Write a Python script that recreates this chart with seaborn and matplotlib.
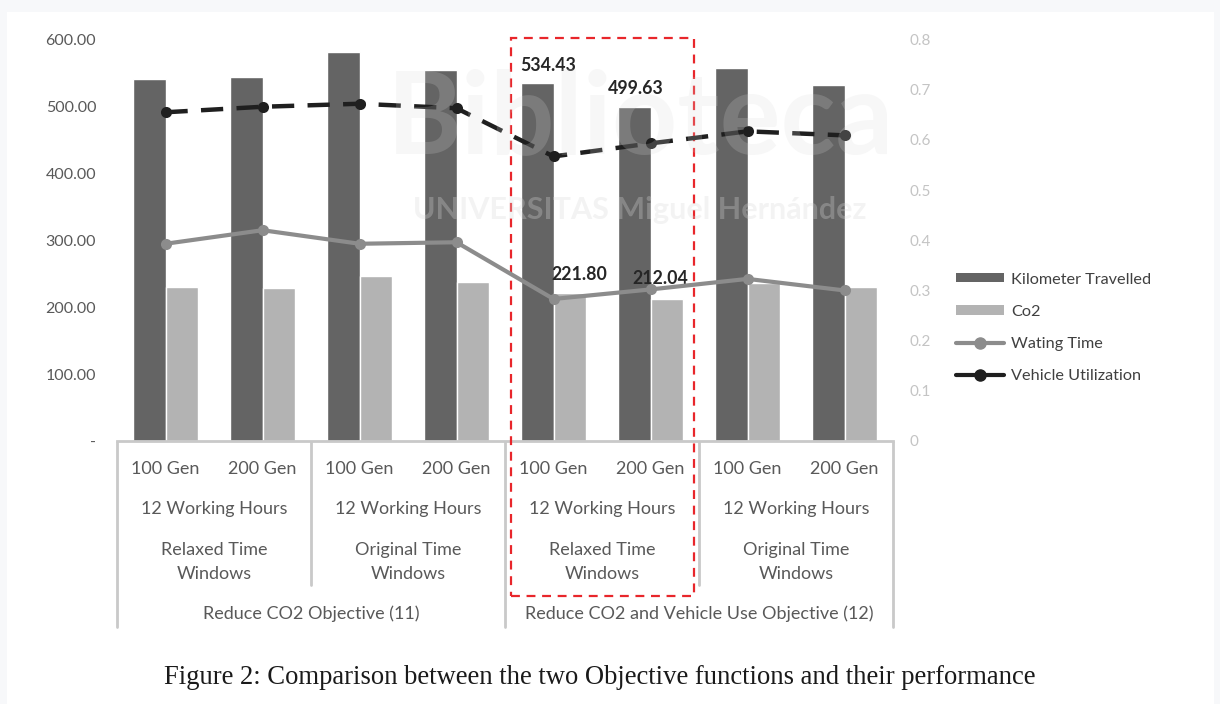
import numpy as np
import pandas as pd
import matplotlib
matplotlib.use("Agg")
import matplotlib.pyplot as plt
import matplotlib.transforms as mtransforms
from matplotlib.patches import Rectangle, Patch
from matplotlib.lines import Line2D
import seaborn as sns

# ---------------- data ----------------
gen_labels = ["100 Gen", "200 Gen"] * 4
hours_labels = ["12 Working Hours"] * 4
window_labels = ["Relaxed Time\nWindows", "Original Time\nWindows",
                 "Relaxed Time\nWindows", "Original Time\nWindows"]
objective_labels = ["Reduce CO2 Objective (11)",
                    "Reduce CO2 and Vehicle Use Objective (12)"]
categories = [f"c{i}" for i in range(8)]

km_travelled = [541, 544, 582, 555, 534.43, 499.63, 558, 532]
co2 = [230, 229, 247, 237, 221.80, 212.04, 236, 230]
waiting_time = [0.393, 0.420, 0.393, 0.396, 0.283, 0.302, 0.323, 0.300]
vehicle_util = [0.655, 0.666, 0.672, 0.663, 0.567, 0.593, 0.617, 0.609]

left_ticks = [0, 100, 200, 300, 400, 500, 600]
left_tick_labels = ["-", "100.00", "200.00", "300.00", "400.00", "500.00", "600.00"]
right_ticks = [0, 0.1, 0.2, 0.3, 0.4, 0.5, 0.6, 0.7, 0.8]
right_tick_labels = ["0", "0.1", "0.2", "0.3", "0.4", "0.5", "0.6", "0.7", "0.8"]

series_names = ["Kilometer Travelled", "Co2", "Wating Time", "Vehicle Utilization"]
labelled = {"Kilometer Travelled": [4, 5], "Co2": [4, 5]}

# ---------------- style ----------------
sns.set_theme(style="white")
plt.rcParams["font.family"] = ["Lato", "DejaVu Sans"]

W, H = 1220, 704
fig = plt.figure(figsize=(W / 100, H / 100), dpi=100)
fig.patch.set_facecolor("#f7f8fa")
fig.add_artist(Rectangle((7 / W, 0), (1214 - 7) / W, (H - 12) / H,
                         transform=fig.transFigure, facecolor="white",
                         edgecolor="none", zorder=-10))

x0, x1 = 117, 893
y_bot, y_top = 441, 39.5
ax = fig.add_axes([x0 / W, 1 - y_bot / H, (x1 - x0) / W, (y_bot - y_top) / H])
ax.patch.set_alpha(0)

bars_df = pd.DataFrame({
    "category": categories * 2,
    "value": km_travelled + co2,
    "series": ["Kilometer Travelled"] * 8 + ["Co2"] * 8,
})
dark, light = "#646464", "#b3b3b3"
sns.barplot(data=bars_df, x="category", y="value", hue="series",
            palette=[dark, light], width=0.68, saturation=1,
            ax=ax, legend=False, zorder=2)

ax.set_xlim(-0.5, 7.5)
ax.set_ylim(0, 600)
ax.set_yticks(left_ticks)
ax.set_yticklabels(left_tick_labels)
ax.set_xticks([])
ax.set_xlabel("")
ax.set_ylabel("")
ax.tick_params(axis="y", length=0, pad=15, labelsize=11.5, labelcolor="#595959")
for s in ["top", "right", "left"]:
    ax.spines[s].set_visible(False)
ax.spines["bottom"].set_color("#c9c9c9")
ax.spines["bottom"].set_linewidth(2)

# data labels on the highlighted bars
km_bars = ax.containers[0]
co2_bars = ax.containers[1]
offsets = {("Kilometer Travelled", 4): (8, 13), ("Kilometer Travelled", 5): (1, 13),
           ("Co2", 4): (7, 13), ("Co2", 5): (-5, 15)}
for name, cont, vals in [("Kilometer Travelled", km_bars, km_travelled),
                         ("Co2", co2_bars, co2)]:
    for i in labelled[name]:
        p = cont[i]
        dx, dy = offsets[(name, i)]
        ax.annotate(f"{vals[i]:.2f}", (p.get_x() + p.get_width() / 2, p.get_height()),
                    xytext=(dx, dy), textcoords="offset points", ha="center",
                    va="center", fontsize=12.8, fontweight="bold", color="#262626",
                    zorder=6)

# secondary axis lines
ax2 = ax.twinx()
ax2.set_ylim(0, 0.8)
lines_df = pd.DataFrame({"pos": np.arange(len(categories)),
                         "wait": waiting_time, "veh": vehicle_util})
sns.lineplot(data=lines_df, x="pos", y="wait", ax=ax2, color="#8c8c8c",
             lw=3, marker="o", markersize=8, markeredgewidth=0, zorder=4)
sns.lineplot(data=lines_df, x="pos", y="veh", ax=ax2, color="#1f1f1f",
             lw=3.2, marker="o", markersize=8, markeredgewidth=0, zorder=5)
ax2.lines[-1].set_dashes([5, 3])
ax2.set_xlim(-0.5, 7.5)
ax2.set_yticks(right_ticks)
ax2.set_yticklabels(right_tick_labels)
ax2.tick_params(axis="y", length=0, pad=12, labelsize=11, labelcolor="#c4c4c4")
ax2.set_xlabel("")
ax2.set_ylabel("")
for s in ax2.spines.values():
    s.set_visible(False)

# watermark (faint)
fig.text(640 / W, 1 - 120 / H, "Biblioteca", fontsize=82, color="#d8d8d8",
         alpha=0.2, ha="center", va="center", fontweight="bold", zorder=7)
fig.text(640 / W, 1 - 210 / H, "UNIVERSITAS Miguel Hernández", fontsize=22,
         color="#d8d8d8", alpha=0.3, ha="center", va="center",
         fontweight="bold", zorder=7)

# multi-level category axis
btr = mtransforms.blended_transform_factory(ax.transData, fig.transFigure)
def fy(py):
    return 1 - py / H

line_kw = dict(color="#c9c9c9", lw=2, transform=btr, clip_on=False)
for xb, yend in [(-0.5, 627), (1.5, 585), (3.5, 627), (5.5, 585), (7.5, 627)]:
    fig.add_artist(Line2D([xb, xb], [fy(442), fy(yend)], **line_kw))

txt_kw = dict(transform=btr, ha="center", va="center", color="#595959",
              fontsize=13)
for i, g in enumerate(gen_labels):
    ax.text(i, fy(469), g, **txt_kw)
for j, h in enumerate(hours_labels):
    ax.text(2 * j + 0.5, fy(509), h, **txt_kw)
for j, w in enumerate(window_labels):
    ax.text(2 * j + 0.5, fy(562), w, linespacing=1.65, **txt_kw)
for k, o in enumerate(objective_labels):
    ax.text(4 * k + 1.5, fy(614), o, **txt_kw)

# highlight box
ax.add_artist(Rectangle((3.56, fy(596)), 5.45 - 3.56, fy(38) - fy(596),
                        transform=btr, fill=False, edgecolor="#e8262b",
                        lw=1.6, ls=(0, (4, 3)), clip_on=False, zorder=8))

# legend
handles = [Patch(facecolor=dark, edgecolor="none"),
           Patch(facecolor=light, edgecolor="none"),
           Line2D([], [], color="#8c8c8c", lw=3, marker="o", markersize=8),
           Line2D([], [], color="#1f1f1f", lw=3, marker="o", markersize=8)]
fig.legend(handles, series_names, loc="upper left",
           bbox_to_anchor=(941 / W, 1 - 258 / H), frameon=False,
           fontsize=11.7, labelcolor="#404040", handlelength=3.0,
           handleheight=0.5, handletextpad=0.4, labelspacing=1.12)

# caption
fig.text(600 / W, 1 - 678 / H, "Figure 2: Comparison between the two Objective functions and their performance",
         family=["Liberation Serif", "DejaVu Serif"], fontsize=19.2,
         color="#1a1a1a", ha="center", va="center")

fig.savefig("out.png", dpi=100)
